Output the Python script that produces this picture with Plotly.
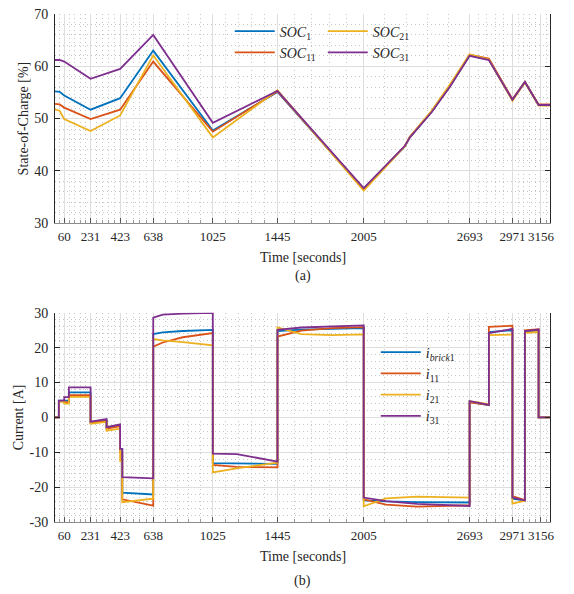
import plotly.graph_objects as go

# ---------------- data ----------------
soc_t = [0, 30, 60, 231, 423, 638, 1025, 1445, 2005, 2175, 2273, 2305, 2446, 2565, 2693, 2818, 2971, 3052, 3141, 3215]
soc1 = [55.2, 55.1, 54.4, 51.7, 53.9, 63.0, 47.7, 55.1, 36.5, 41.7, 44.7, 46.4, 51.3, 56.2, 62.1, 61.3, 53.6, 57.0, 52.6, 52.6]
soc11 = [52.8, 52.7, 52.1, 49.9, 51.7, 60.9, 47.5, 55.2, 36.5, 41.8, 44.8, 46.5, 51.4, 56.3, 62.2, 61.5, 53.7, 57.0, 52.7, 52.7]
soc21 = [51.7, 51.5, 49.9, 47.6, 50.6, 62.1, 46.4, 55.4, 36.2, 41.6, 44.7, 46.5, 51.5, 56.5, 62.3, 61.3, 53.4, 56.9, 52.5, 52.5]
soc31 = [61.2, 61.2, 60.9, 57.6, 59.5, 66.0, 49.2, 55.3, 36.7, 41.8, 44.8, 46.4, 51.2, 56.1, 62.0, 61.2, 53.6, 57.0, 52.6, 52.6]

cur_t = [0, 25, 25, 60, 60, 90, 90, 231, 231, 335, 335, 423, 423, 437, 437, 638, 638, 700, 830, 1025,
         1025, 1180, 1445, 1445, 1600, 1800, 2005, 2005, 2150, 2350, 2693, 2693, 2818, 2818, 2971, 2971,
         3052, 3052, 3141, 3141, 3215]
i_brick1 = [0, 0, 4.8, 4.8, 4.8, 4.8, 7.2, 7.2, -1.4, -0.8, -3.0, -2.3, -9.0, -9.0, -21.6, -22.1, 23.9, 24.4, 24.8, 25.1,
            -13.1, -13.2, -13.3, 24.8, 25.2, 25.4, 25.6, -23.8, -24.1, -24.3, -24.4, 4.5, 3.5, 24.5, 25.0, -23.3,
            -23.8, 24.6, 25.0, 0, 0]
i11 = [0, 0, 4.7, 4.7, 4.4, 4.4, 6.4, 6.4, -1.5, -1.0, -3.2, -2.5, -10.0, -10.0, -23.5, -25.3, 20.3, 21.5, 23.0, 24.2,
       -13.6, -14.2, -14.3, 23.2, 24.9, 25.6, 25.9, -23.5, -25.0, -25.6, -25.2, 4.3, 3.6, 26.0, 26.3, -22.6,
       -23.7, 25.0, 25.3, 0, 0]
i21 = [0, 0, 4.5, 4.5, 4.0, 4.0, 5.9, 5.9, -1.8, -1.3, -3.8, -3.2, -12.5, -12.5, -24.3, -23.3, 22.5, 22.1, 21.6, 20.7,
       -15.8, -14.6, -13.0, 25.8, 23.9, 23.6, 23.8, -25.5, -23.2, -22.7, -23.0, 4.6, 3.8, 23.6, 23.8, -24.7,
       -23.9, 24.3, 24.5, 0, 0]
i31 = [0, 0, 4.8, 4.8, 5.8, 5.8, 8.6, 8.6, -1.2, -0.5, -2.8, -2.0, -9.0, -9.0, -17.1, -17.5, 28.6, 29.5, 29.8, 30.0,
       -10.4, -10.5, -12.7, 25.1, 25.8, 26.2, 26.4, -23.0, -24.0, -24.8, -25.4, 4.7, 3.6, 24.2, 25.4, -23.0,
       -23.8, 24.8, 25.2, 0, 0]

x_ticks = [60, 231, 423, 638, 1025, 1445, 2005, 2693, 2971, 3156]
soc_ticks = [30, 40, 50, 60, 70]
cur_ticks = [-30, -20, -10, 0, 10, 20, 30]

# ---------------- style ----------------
FONT = "Liberation Serif"
TXT = "#262626"
COLORS = ["#0072BD", "#D95319", "#EDB120", "#7E2F8E"]
LW = 1.8
MINOR_GRID = "#c6c6c6"
MAJOR_GRID = "#dedede"

minor_x = [30]
for a, b in zip(x_ticks[:-1], x_ticks[1:]):
    minor_x += [a + (b - a) * k / 5 for k in range(1, 5)]
minor_x += [3156 + (3156 - 2971) * k / 5 for k in range(1, 3)]

fig = go.Figure()

soc_series = [("<i>SOC</i><sub>1</sub>", soc1, "legend"),
              ("<i>SOC</i><sub>11</sub>", soc11, "legend"),
              ("<i>SOC</i><sub>21</sub>", soc21, "legend3"),
              ("<i>SOC</i><sub>31</sub>", soc31, "legend3")]
for (name, ys, leg), c in zip(soc_series, COLORS):
    fig.add_trace(go.Scatter(x=soc_t, y=ys, mode="lines", name=name, legend=leg,
                             line=dict(color=c, width=LW), xaxis="x", yaxis="y"))

cur_series = [("<i>i</i><sub><i>brick</i>1</sub>", i_brick1),
              ("<i>i</i><sub>11</sub>", i11),
              ("<i>i</i><sub>21</sub>", i21),
              ("<i>i</i><sub>31</sub>", i31)]
for (name, ys), c in zip(cur_series, COLORS):
    fig.add_trace(go.Scatter(x=cur_t, y=ys, mode="lines", name=name, legend="legend2",
                             line=dict(color=c, width=LW), xaxis="x2", yaxis="y2"))

tickfont = dict(family=FONT, size=14, color=TXT)
xtickfont = dict(family=FONT, size=13, color=TXT)


def xaxis(domain_anchor):
    return dict(
        anchor=domain_anchor, domain=[0, 1], range=[0, 3215],
        tickmode="array", tickvals=x_ticks, ticktext=[str(v) for v in x_ticks],
        tickangle=0,
        ticks="inside", ticklen=5, tickcolor="#555555",
        showline=True, linecolor="#8c8c8c", linewidth=1,
        showgrid=True, gridcolor=MAJOR_GRID, gridwidth=1, zeroline=False,
        tickfont=xtickfont, ticklabelstandoff=1,
        minor=dict(tickmode="array", tickvals=minor_x, ticks="inside", ticklen=3, tickcolor="#9a9a9a",
                   showgrid=True, gridcolor=MINOR_GRID, griddash="1px,3px", gridwidth=1),
    )


def yaxis(anchor, domain, rng, ticks, title):
    return dict(
        anchor=anchor, domain=domain, range=rng,
        tickmode="array", tickvals=ticks, ticktext=[str(v) for v in ticks],
        ticks="inside", ticklen=5, tickcolor=TXT,
        showline=True, linecolor=TXT, linewidth=1, mirror="ticks",
        showgrid=True, gridcolor=MAJOR_GRID, gridwidth=1, zeroline=False,
        tickfont=tickfont, ticklabelstandoff=3,
        title=dict(text=title, font=dict(family=FONT, size=14, color=TXT), standoff=2),
        minor=dict(dtick=2, tick0=0, showgrid=True, gridcolor=MINOR_GRID, griddash="1px,3px", gridwidth=1),
    )


legfont = dict(family=FONT, size=14, color=TXT)
fig.update_layout(
    width=574, height=594,
    margin=dict(l=55, r=24, t=7, b=72),
    paper_bgcolor="white", plot_bgcolor="white",
    font=dict(family=FONT, size=14, color=TXT),
    xaxis=xaxis("y"),
    yaxis=yaxis("x", [0.5883, 1], [30, 70], soc_ticks, "State-of-Charge [%]"),
    xaxis2=xaxis("y2"),
    yaxis2=yaxis("x2", [0, 0.4117], [-30, 30], cur_ticks, "Current [A]"),
    legend=dict(x=0.353, y=0.997, xanchor="left", yanchor="top", bgcolor="rgba(0,0,0,0)",
                font=legfont, tracegroupgap=0, itemwidth=40),
    legend3=dict(x=0.541, y=0.997, xanchor="left", yanchor="top", bgcolor="rgba(0,0,0,0)",
                 font=legfont, tracegroupgap=0, itemwidth=40),
    legend2=dict(x=0.648, y=0.365, xanchor="left", yanchor="top", bgcolor="rgba(0,0,0,0)",
                 font=legfont, tracegroupgap=0, itemwidth=40),
    annotations=[
        dict(text="Time [seconds]", x=0.5, y=(522 - 254) / 515, xref="paper", yref="paper",
             showarrow=False, font=dict(family=FONT, size=14, color=TXT), yanchor="middle"),
        dict(text="(a)", x=0.5, y=(522 - 273) / 515, xref="paper", yref="paper",
             showarrow=False, font=dict(family=FONT, size=14, color=TXT), yanchor="middle"),
        dict(text="Time [seconds]", x=0.5, y=(522 - 557) / 515, xref="paper", yref="paper",
             showarrow=False, font=dict(family=FONT, size=14, color=TXT), yanchor="middle"),
        dict(text="(b)", x=0.5, y=(522 - 582) / 515, xref="paper", yref="paper",
             showarrow=False, font=dict(family=FONT, size=14, color=TXT), yanchor="middle"),
    ],
)

fig.write_html("out.html")
